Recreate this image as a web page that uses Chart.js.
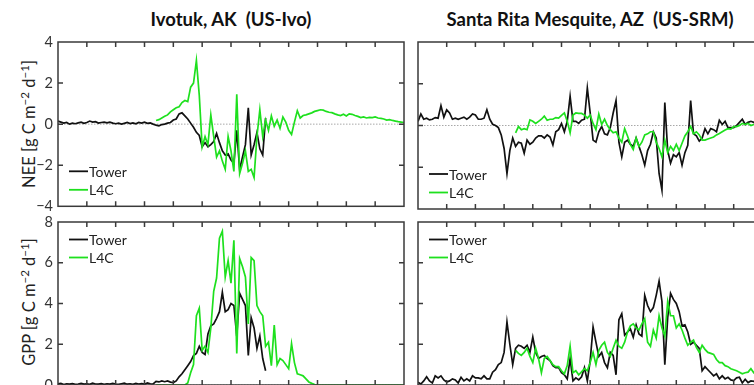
<!DOCTYPE html>
<html>
<head>
<meta charset="utf-8">
<script src="https://cdn.jsdelivr.net/npm/chart.js@4.4.1/dist/chart.umd.min.js"></script>
<style>
  html, body { margin: 0; padding: 0; background: #fff; width: 754px; height: 385px; overflow: hidden; }
  .panel { position: absolute; }
  .title { position: absolute; top: 7px; font: bold 18.5px Lato, sans-serif; line-height: 24px; color: #111; text-align: center; white-space: pre; }
  .ylab { position: absolute; width: 220px; height: 20px; line-height: 20px; font: 16.5px Lato, sans-serif; color: #222;
          text-align: center; white-space: nowrap; transform: rotate(-90deg); }
  .ylab sup { font-size: 0.7em; line-height: 0; vertical-align: 0.5em; }
</style>
</head>
<body>
<div class="title" style="left:81px;width:300px;">Ivotuk, AK  (US-Ivo)</div>
<div class="title" style="left:440px;width:300px;">Santa Rita Mesquite, AZ  (US-SRM)</div>
<div class="ylab" style="left:-81px;top:114px;">NEE [g C m<sup>−2</sup> d<sup>−1</sup>]</div>
<div class="ylab" style="left:-81px;top:292px;">GPP [g C m<sup>−2</sup> d<sup>−1</sup>]</div>

<div class="panel" style="left:0;top:0;"><canvas id="neeIvo" width="420" height="220"></canvas></div>
<div class="panel" style="left:410px;top:0;"><canvas id="neeSrm" width="370" height="220"></canvas></div>
<div class="panel" style="left:0;top:200px;"><canvas id="gppIvo" width="420" height="200"></canvas></div>
<div class="panel" style="left:410px;top:200px;"><canvas id="gppSrm" width="370" height="200"></canvas></div>

<script>
// one sample every 0.1 month, x axis runs over 12 months
const STEP = 0.1;
const monthTicks = [0, 1, 2, 3, 4, 5, 6, 7, 8, 9, 10, 11, 12];
const neeTicks = [-4, -2, 0, 2, 4];
const gppTicks = [0, 2, 4, 6, 8];

// Ivotuk NEE
const ivoNeeTowerStart = 0;
const ivoNeeTower = [
  0.15, 0.1, 0.05, 0.08, 0.0, 0.05, 0.02, 0.06, 0.1, 0.04,
  0.08, 0.15, 0.1, 0.12, 0.05, 0.08, 0.1, 0.06, 0.1, 0.05,
  0.02, 0.05, 0.0, 0.04, 0.08, 0.03, 0.06, 0.02, 0.08, 0.05,
  0.1, 0.04, 0.06, 0.0, -0.05, -0.08, -0.02, 0.0, 0.05, 0.08,
  0.2, 0.25, 0.5, 0.55, 0.4, 0.25, 0.05, -0.15, -0.4, -0.55,
  -1.1, -0.9, -1.1, -1.0, -0.85, -0.45, -0.9, -1.3, -1.5, -1.45,
  -1.75, -1.9, -0.3, -2.2, -1.6, -1.0, 0.8, -1.5, -1.0, -0.4,
  -1.2, -1.5, 0.3
];
const ivoNeeL4CStart = 34;
const ivoNeeL4C = [
  0.18, 0.22, 0.3, 0.38, 0.45, 0.6, 0.7, 0.8, 0.85, 1.05,
  1.15, 1.1, 1.8, 2.0, 3.1, 1.4, -1.1, -0.6, -1.0, 0.45,
  -0.6, -1.6, -1.3, -1.8, -2.2, -0.6, -1.3, -2.3, 1.45, -2.4,
  -1.9, -1.3, -2.3, -2.2, -2.6, -0.6, 0.7, -0.6, 0.2, -0.3,
  0.4, -0.1, 0.2, -0.2, 0.35, 0.1, -0.3, -0.5, 0.1, 0.65,
  0.3, 0.42, 0.45, 0.5, 0.55, 0.62, 0.66, 0.7, 0.68, 0.62,
  0.58, 0.56, 0.5, 0.45, 0.42, 0.48, 0.4, 0.5, 0.48, 0.42,
  0.38, 0.32, 0.35, 0.3, 0.33, 0.32, 0.35, 0.3, 0.28, 0.25,
  0.2, 0.22, 0.18, 0.15, 0.12, 0.1, 0.08
];

// Santa Rita NEE
const srmNeeTowerStart = 0;
const srmNeeTower = [
  0.2, 0.55, 0.3, 0.35, 0.27, 0.3, 0.38, 0.35, 0.95, 0.4,
  0.75, 0.6, 0.3, 0.35, 0.3, 0.35, 0.4, 0.3, 0.4, 0.55,
  0.5, 0.3, 0.3, 0.35, 0.75, 0.3, 0.06, 0.0, -0.1, -0.45,
  -1.1, -2.3, -1.2, -0.6, -1.0, -0.8, -0.85, -1.33, -0.7, -0.9,
  -0.8, -0.6, -0.5, -0.5, -0.6, -0.45, -0.55, -0.93, -0.3, -0.2,
  0.1, -0.3, 0.2, 1.4, 0.2, 0.2, 0.1, 0.25, 0.3, 1.8,
  0.6, -0.7, -0.8, -0.3, -0.05, -0.4, -0.45, -0.1, 0.6, 1.2,
  -0.8, -1.5, -0.8, -0.7, -0.9, -1.0, -0.6, -1.0, -1.4, -1.9,
  -1.2, -0.9, -0.3, -0.6, -2.3, -3.1, 1.1, -1.2, -1.8, -1.4,
  -1.5, -1.3, -1.9, -1.3, -0.95, 1.2, -0.4, -0.5, -0.75, -0.6,
  -0.15, -0.4, -0.15, -0.2, -0.3, 0.25, 0.05, 0.2, -0.1, -0.1,
  -0.1, 0.0, 0.15, 0.3, 0.05, 0.15, 0.2, 0.15, 0.1, 0.2,
  0.15
];
const srmNeeL4CStart = 34;
const srmNeeL4C = [
  -0.35, -0.05, -0.2, -0.15, -0.2, 0.27, 0.2, 0.1, 0.2, 0.3,
  0.45, 0.25, 0.3, 0.3, 0.38, 0.35, 0.48, 0.6, 0.2, -0.35,
  0.5, 0.6, 0.58, 0.58, 0.5, 0.35, 0.5, 0.1, -0.2, 0.55,
  0.05, 0.3, 0.0, -0.2, -0.35, -0.3, -0.6, -0.8, -0.15, -0.5,
  -0.9, -1.15, -0.6, -1.0, -0.8, -0.45, -0.4, -0.3, -0.3, -0.8,
  -1.1, -1.5, -0.7, -1.3, -1.0, -1.2, -0.9, -1.2, -0.85, -0.5,
  -0.3, -0.05, -0.4, -0.3, -0.45, -0.7, -0.7, -0.65, -0.6, -0.55,
  -0.45, -0.38, -0.3, -0.22, -0.15, -0.17, -0.05, -0.05, 0.0, 0.1,
  0.05, 0.1, 0.0, 0.05, 0.1, 0.05, 0.1
];

// Ivotuk GPP
const ivoGppTowerStart = 0;
const ivoGppTower = [
  0.05, 0.08, 0.02, 0.06, 0.04, 0.07, 0.03, 0.05, 0.08, 0.04,
  0.06, 0.03, 0.09, 0.05, 0.04, 0.07, 0.03, 0.06, 0.04, 0.08,
  0.05, 0.03, 0.06, 0.09, 0.04, 0.06, 0.03, 0.08, 0.05, 0.07,
  0.04, 0.1, 0.06, 0.05, 0.18, 0.15, 0.2, 0.16, 0.2, 0.14,
  0.12, 0.2, 0.4, 0.55, 0.75, 0.95, 1.15, 1.45, 1.55, 1.9,
  1.6, 1.5, 2.5, 2.9, 3.0, 3.27, 3.6, 4.55, 3.6, 3.7,
  4.0, 3.9, 2.4, 4.5, 4.2, 3.9, 1.45, 3.3, 2.8, 1.8,
  2.4, 1.3, 0.7
];
const ivoGppL4CStart = 34;
const ivoGppL4C = [
  0, 0, 0, 0, 0, 0, 0, 0, 0, 0,
  0.0, 0.1, 0.6, 1.0, 3.4, 3.77, 1.7, 1.9, 1.6, 2.8,
  4.6, 5.25, 7.2, 7.55, 5.3, 6.1, 5.0, 7.1, 1.55, 6.2,
  5.8, 5.3, 3.0, 6.25, 6.1, 3.9, 3.6, 3.4, 1.9, 2.1,
  0.95, 2.94, 1.0, 1.3, 1.2, 1.0, 0.8, 2.03, 1.1, 0.55,
  0.5, 0.45, 0.3, 0.15, 0.08, 0.02, 0, 0, 0, 0,
  0, 0, 0, 0, 0, 0, 0, 0, 0, 0,
  0, 0, 0, 0, 0, 0, 0, 0, 0, 0,
  0, 0, 0, 0, 0, 0, 0
];

// Santa Rita GPP
const srmGppTowerStart = 0;
const srmGppTower = [
  0.13, 0.05, 0.2, 0.4, 0.2, 0.1, 0.45, 0.35, 0.45, 0.25,
  0.15, 0.2, 0.3, 0.25, 0.1, 0.38, 0.2, 0.3, 0.2, 0.45,
  0.35, 0.35, 0.3, 0.45, 0.3, 0.3, 0.63, 0.75, 1.0, 1.1,
  1.6, 3.1, 2.0, 1.0, 1.8, 1.95, 1.9, 1.8, 1.95, 1.6,
  2.35, 1.6, 1.3, 1.4, 1.45, 1.3, 1.2, 0.95, 0.85, 0.85,
  0.6, 0.5, 0.3, 1.29, 0.2, 0.35, 0.25, 0.4, 0.85, 0.2,
  1.2, 2.85, 2.1, 1.4, 1.6, 1.1, 0.85, 1.6, 1.45, 0.5,
  3.2, 3.5, 2.45, 2.6, 2.75, 2.35, 2.95, 2.5, 2.4, 4.4,
  3.9, 3.6, 3.8, 4.4, 5.1, 4.1, 1.0, 3.3, 4.5, 4.2,
  4.0, 3.6, 2.9, 2.95, 2.6, 2.0, 2.1, 1.95, 1.8, 0.7,
  0.9, 0.75, 0.6, 0.45, 0.55, 0.3, 0.45, 0.3, 0.38, 0.25,
  0.22, 0.35, 0.38, 0.1, 0.28, 0.12, 0.2, 0.18, 0.25, 0.15,
  0.2
];
const srmGppL4CStart = 34;
const srmGppL4C = [
  1.7, 1.55, 1.45, 1.6, 1.8, 1.4, 1.1, 1.8, 1.3, 0.6,
  1.3, 1.4, 1.2, 1.0, 0.9, 0.9, 0.7, 0.55, 0.95, 1.9,
  0.6, 0.7, 0.5, 0.65, 0.8, 0.7, 1.1, 1.6, 1.0, 1.7,
  1.95, 2.1, 1.6, 1.4, 1.8, 2.2, 1.9, 1.8, 2.1, 2.6,
  2.9, 3.0, 2.8, 2.7, 3.0, 3.25, 2.1, 1.9, 2.7, 2.3,
  3.4, 2.8, 2.4, 4.1, 3.4, 3.4, 2.8, 3.0, 2.7, 2.3,
  1.95, 2.1, 2.2, 1.85, 1.6, 1.95, 1.75, 1.6, 1.55, 1.5,
  1.25, 1.1, 1.1, 0.95, 0.9, 0.8, 0.75, 0.7, 0.63, 0.55,
  0.6, 0.63, 0.8, 0.6, 0.7, 0.65, 0.7
];

const TOWER_COLOR = '#111111';
const L4C_COLOR = '#1ee01e';
const AXIS_COLOR = '#3a3a3a';

Chart.defaults.font.family = "Lato, 'DejaVu Sans', sans-serif";

function toPoints(start, values) {
  return values.map((v, i) => ({ x: (start + i) * STEP, y: v }));
}

// Matlab style box: dotted zero line, frame, inward ticks, legend inside the axes
const boxPlugin = {
  id: 'matlabBox',
  beforeDatasetsDraw(chart) {
    const { ctx, chartArea: a, scales: { y } } = chart;
    const y0 = y.getPixelForValue(0);
    ctx.save();
    ctx.strokeStyle = '#a8a8a8';
    ctx.lineWidth = 1;
    ctx.setLineDash([1.5, 1.5]);
    ctx.beginPath();
    ctx.moveTo(a.left, y0);
    ctx.lineTo(a.right, y0);
    ctx.stroke();
    ctx.restore();
  },
  afterDatasetsDraw(chart, args, opts) {
    const { ctx, chartArea: a, scales: { x, y } } = chart;
    const tl = 5;
    ctx.save();
    ctx.strokeStyle = AXIS_COLOR;
    ctx.lineWidth = 1.5;
    ctx.beginPath();
    monthTicks.slice(1, -1).forEach(m => {
      const px = x.getPixelForValue(m);
      ctx.moveTo(px, a.top); ctx.lineTo(px, a.top + tl);
      ctx.moveTo(px, a.bottom); ctx.lineTo(px, a.bottom - tl);
    });
    opts.yTicks.slice(1, -1).forEach(v => {
      const py = y.getPixelForValue(v);
      ctx.moveTo(a.left, py); ctx.lineTo(a.left + tl, py);
      ctx.moveTo(a.right, py); ctx.lineTo(a.right - tl, py);
    });
    ctx.stroke();
    ctx.strokeRect(a.left, a.top, a.right - a.left, a.bottom - a.top);

    // legend
    const rows = opts.legendAt === 'top' ? [a.top + 17.5, a.top + 35.5] : [a.bottom - 35, a.bottom - 16.5];
    ctx.font = "14px Lato, sans-serif";
    ctx.textBaseline = 'middle';
    chart.data.datasets.forEach((ds, i) => {
      const yy = rows[i];
      ctx.strokeStyle = ds.borderColor;
      ctx.lineWidth = 1.8;
      ctx.beginPath();
      ctx.moveTo(a.left + 11, yy);
      ctx.lineTo(a.left + 30, yy);
      ctx.stroke();
      ctx.fillStyle = '#222';
      ctx.fillText(ds.label, a.left + 31, yy + 1);
    });
    ctx.restore();
  }
};

function makePanel(canvasId, tower, l4c, yTicks, legendAt, showLabels, yWidth, pad) {
  const ctx = document.getElementById(canvasId).getContext('2d');
  return new Chart(ctx, {
    type: 'line',
    data: {
      datasets: [
        { label: 'Tower', data: tower, borderColor: TOWER_COLOR, borderWidth: 1.7, order: 2 },
        { label: 'L4C', data: l4c, borderColor: L4C_COLOR, borderWidth: 1.7, order: 1 }
      ]
    },
    options: {
      responsive: false,
      animation: false,
      events: [],
      layout: { padding: pad, autoPadding: false },
      elements: { point: { radius: 0 }, line: { tension: 0, fill: false } },
      scales: {
        x: {
          type: 'linear',
          display: false,
          min: monthTicks[0],
          max: monthTicks[monthTicks.length - 1]
        },
        y: {
          min: yTicks[0],
          max: yTicks[yTicks.length - 1],
          grid: { display: false, drawTicks: false },
          border: { display: false },
          ticks: {
            display: showLabels,
            stepSize: yTicks[1] - yTicks[0],
            padding: 5,
            color: '#333',
            font: { size: 14.5 },
            callback: v => (v < 0 ? '\u2212' + Math.abs(v) : String(v))
          },
          afterFit(scale) { scale.width = yWidth; }
        }
      },
      plugins: {
        legend: { display: false },
        tooltip: { enabled: false },
        matlabBox: { yTicks: yTicks, legendAt: legendAt }
      }
    },
    plugins: [boxPlugin]
  });
}

document.addEventListener('DOMContentLoaded', function () {
  makePanel('neeIvo', toPoints(ivoNeeTowerStart, ivoNeeTower), toPoints(ivoNeeL4CStart, ivoNeeL4C),
    neeTicks, 'bottom', true, 58, { top: 42, right: 16, bottom: 11, left: 0 });
  makePanel('neeSrm', toPoints(srmNeeTowerStart, srmNeeTower), toPoints(srmNeeL4CStart, srmNeeL4C),
    neeTicks, 'bottom', false, 8, { top: 42, right: 17.6, bottom: 11, left: 0 });
  makePanel('gppIvo', toPoints(ivoGppTowerStart, ivoGppTower), toPoints(ivoGppL4CStart, ivoGppL4C),
    gppTicks, 'top', true, 58, { top: 22, right: 16, bottom: 15, left: 0 });
  makePanel('gppSrm', toPoints(srmGppTowerStart, srmGppTower), toPoints(srmGppL4CStart, srmGppL4C),
    gppTicks, 'top', false, 8, { top: 22, right: 17.6, bottom: 15, left: 0 });
});
</script>
</body>
</html>
